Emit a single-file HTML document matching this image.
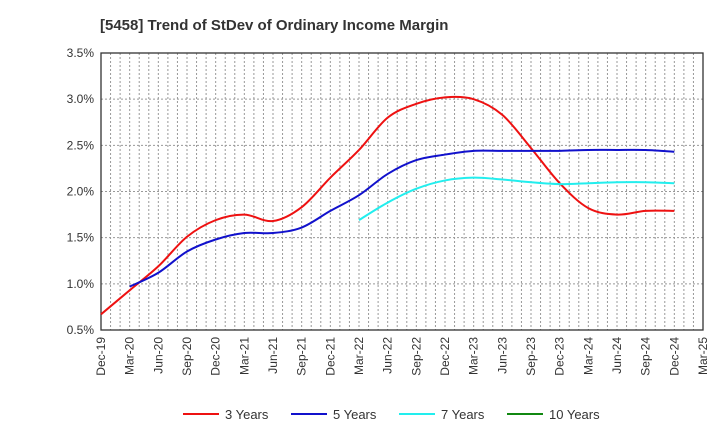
<!DOCTYPE html>
<html><head><meta charset="utf-8"><style>
body{margin:0;background:#fff;font-family:"Liberation Sans",sans-serif}
</style></head><body>
<svg id="c" width="720" height="440" xmlns="http://www.w3.org/2000/svg">
<text x="100" y="30" font-size="15" font-weight="bold" fill="#333">[5458]  Trend of StDev of Ordinary Income Margin</text>
<g id="grid"></g><g id="axes"></g><g id="series"></g><g id="legend"></g>
</svg>
<script>
const xLabels=["Dec-19","Mar-20","Jun-20","Sep-20","Dec-20","Mar-21","Jun-21","Sep-21","Dec-21","Mar-22","Jun-22","Sep-22","Dec-22","Mar-23","Jun-23","Sep-23","Dec-23","Mar-24","Jun-24","Sep-24","Dec-24","Mar-25"];
const yTicks=[0.5,1.0,1.5,2.0,2.5,3.0,3.5];
const s3Start=0;
const s3=[0.67,0.93,1.19,1.51,1.69,1.75,1.68,1.83,2.15,2.45,2.80,2.95,3.02,3.0,2.83,2.47,2.09,1.82,1.75,1.79,1.79];
const s5Start=1;
const s5=[0.97,1.12,1.35,1.48,1.55,1.55,1.61,1.79,1.96,2.19,2.34,2.40,2.44,2.44,2.44,2.44,2.45,2.45,2.45,2.43];
const s7Start=9;
const s7=[1.69,1.88,2.03,2.12,2.15,2.13,2.10,2.08,2.09,2.10,2.10,2.09];
const s10Start=0;
const s10=[];
const L=101,R=703,T=53,B=330;
const x=q=>L+q*(R-L)/(xLabels.length-1);
const y=v=>B-(v-0.5)*(B-T)/3;
const NS="http://www.w3.org/2000/svg";
function mk(tag,at,parent){const e=document.createElementNS(NS,tag);for(const k in at)e.setAttribute(k,at[k]);parent.appendChild(e);return e;}
const grid=document.getElementById('grid'),axes=document.getElementById('axes'),ser=document.getElementById('series'),leg=document.getElementById('legend');
for(let m=1;m<(xLabels.length-1)*3;m++){const xx=L+m*(R-L)/((xLabels.length-1)*3);
const g=mk('line',{x1:xx,x2:xx,y1:T,y2:B,stroke:'#999','stroke-dasharray':'2,2','stroke-width':1},grid);

}
yTicks.forEach(v=>{if(v>0.5&&v<3.5){const g=mk('line',{x1:L,x2:R,y1:y(v),y2:y(v),stroke:'#999','stroke-dasharray':'2,2'},grid);

}
const t=mk('text',{x:L-7,y:y(v)+4,'text-anchor':'end','font-size':12,fill:'#333'},axes);t.textContent=v.toFixed(1)+'%';

});
const fr=mk('rect',{x:L,y:T,width:R-L,height:B-T,fill:'none',stroke:'#333','stroke-width':1.3},axes);


xLabels.forEach((l,i)=>{const t=mk('text',{x:0,y:0,'text-anchor':'end','font-size':12,fill:'#333',transform:`translate(${x(i)+4},${B+7}) rotate(-90)`},axes);t.textContent=l;

});
function path(vals,st){const p=vals.map((v,i)=>[x(st+i),y(v)]);if(p.length<2)return '';let d=`M${p[0][0]},${p[0][1]}`;
for(let i=0;i<p.length-1;i++){const p0=p[i-1]||p[i],p1=p[i],p2=p[i+1],p3=p[i+2]||p2;
d+=` C${p1[0]+(p2[0]-p0[0])/6},${p1[1]+(p2[1]-p0[1])/6} ${p2[0]-(p3[0]-p1[0])/6},${p2[1]-(p3[1]-p1[1])/6} ${p2[0]},${p2[1]}`;}return d;}
const defs=[[s3,s3Start,'#ee1111','3 Years','series-3-years'],[s5,s5Start,'#1111cc','5 Years','series-5-years'],[s7,s7Start,'#22eeee','7 Years','series-7-years'],[s10,s10Start,'#118811','10 Years','series-10-years']];
defs.forEach((d,i)=>{if(d[0].length>1){const p=mk('path',{d:path(d[0],d[1]),fill:'none',stroke:d[2],'stroke-width':2},ser);

}
const lx=183+i*108;
const ll=mk('line',{x1:lx,x2:lx+36,y1:414,y2:414,stroke:d[2],'stroke-width':2},leg);


const lt=mk('text',{x:lx+42,y:419,'font-size':13,fill:'#333'},leg);lt.textContent=d[3];

});
</script>
</body></html>
